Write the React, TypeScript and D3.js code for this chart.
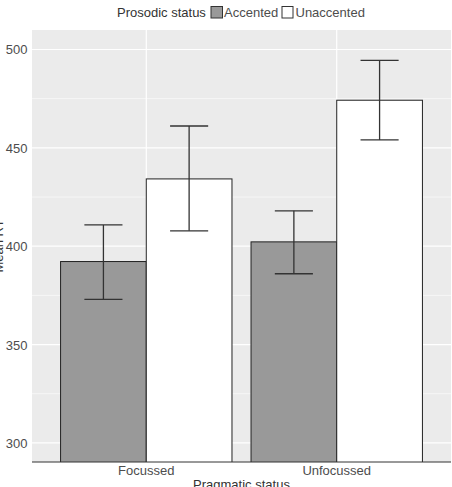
import React from "react";
import * as d3 from "d3";

const categories = ["Focussed", "Unfocussed"];
const groups = ["Accented", "Unaccented"];
const means = [
  [392.2, 434.2],
  [402.2, 474.2],
];
const lower = [
  [373, 407.8],
  [386, 454],
];
const upper = [
  [410.8, 461.1],
  [418, 494.5],
];
const yTicks = [300, 350, 400, 450, 500];
const yMinor = [325, 375, 425, 475];
const fills = ["#999999", "#ffffff"];

export default function App() {
  const W = 452, H = 487;
  const left = 32, right = 451, top = 30, bottom = 462;
  const y = d3.scaleLinear().domain([290.3, 509.9]).range([bottom, top]);
  const x = d3.scaleLinear().domain([0.4, 2.6]).range([left, right]);
  const barW = 0.45;
  const ebW = 0.2;
  const textCol = "#4d4d4d";
  const titleCol = "#333";
  const fs = 13;
  const font = "Liberation Sans, Arial, sans-serif";
  return (
    <svg width={W} height={H} style={{ position: "absolute", left: 0, top: 0 }} fontFamily={font}>
      <defs>
        <clipPath id="panel">
          <rect x={left} y={top} width={right - left} height={bottom - top} />
        </clipPath>
      </defs>
      <rect x={left} y={top} width={right - left} height={bottom - top} fill="#ebebeb" />
      {yMinor.map((t) => (
        <line key={"m" + t} x1={left} x2={right} y1={y(t)} y2={y(t)} stroke="#fff" strokeWidth={0.6} />
      ))}
      {yTicks.map((t) => (
        <line key={"g" + t} x1={left} x2={right} y1={y(t)} y2={y(t)} stroke="#fff" strokeWidth={1.2} />
      ))}
      {categories.map((c, i) => (
        <line key={"v" + c} x1={x(i + 1)} x2={x(i + 1)} y1={top} y2={bottom} stroke="#fff" strokeWidth={1.2} />
      ))}
      <g clipPath="url(#panel)">
        {categories.map((c, i) =>
          groups.map((g, j) => {
            const x0 = x(i + 1 - barW + j * barW);
            const x1 = x(i + 1 + j * barW);
            return (
              <rect
                key={c + g}
                x={x0}
                y={y(means[i][j])}
                width={x1 - x0}
                height={bottom + 5 - y(means[i][j])}
                fill={fills[j]}
                stroke="#222"
                strokeWidth={1}
              />
            );
          })
        )}
        {categories.map((c, i) =>
          groups.map((g, j) => {
            const cx = i + 1 - barW / 2 + j * barW;
            const xa = x(cx - ebW / 2), xb = x(cx + ebW / 2), xm = x(cx);
            return (
              <g key={"e" + c + g} stroke="#333" strokeWidth={1.3}>
                <line x1={xm} x2={xm} y1={y(lower[i][j])} y2={y(upper[i][j])} />
                <line x1={xa} x2={xb} y1={y(lower[i][j])} y2={y(lower[i][j])} />
                <line x1={xa} x2={xb} y1={y(upper[i][j])} y2={y(upper[i][j])} />
              </g>
            );
          })
        )}
      </g>
      <line x1={left} x2={right} y1={bottom} y2={bottom} stroke="#333" strokeWidth={1} />
      {yTicks.map((t) => (
        <text key={"t" + t} x={27.5} y={y(t) + 5} textAnchor="end" fontSize={fs} fill={textCol}>
          {t}
        </text>
      ))}
      {categories.map((c, i) => (
        <text key={"c" + c} x={x(i + 1)} y={475} textAnchor="middle" fontSize={fs} fill={textCol}>
          {c}
        </text>
      ))}
      <text x={(left + right) / 2} y={488.6} textAnchor="middle" fontSize={fs} fill={titleCol}>
        Pragmatic status
      </text>
      <text transform={`translate(3, ${(top + bottom) / 2}) rotate(-90)`} textAnchor="middle" fontSize={fs} fill={titleCol}>
        Mean RT
      </text>
      <text x={117} y={16.5} fontSize={fs} fill={titleCol}>
        Prosodic status
      </text>
      <rect x={211} y={6.5} width={11.5} height={11.5} fill={fills[0]} stroke="#333" strokeWidth={1} />
      <text x={224} y={16.5} fontSize={fs} fill={textCol}>
        {groups[0]}
      </text>
      <rect x={282} y={6.5} width={11} height={11.5} fill={fills[1]} stroke="#333" strokeWidth={1} />
      <text x={295.5} y={16.5} fontSize={fs} fill={textCol}>
        {groups[1]}
      </text>
    </svg>
  );
}
